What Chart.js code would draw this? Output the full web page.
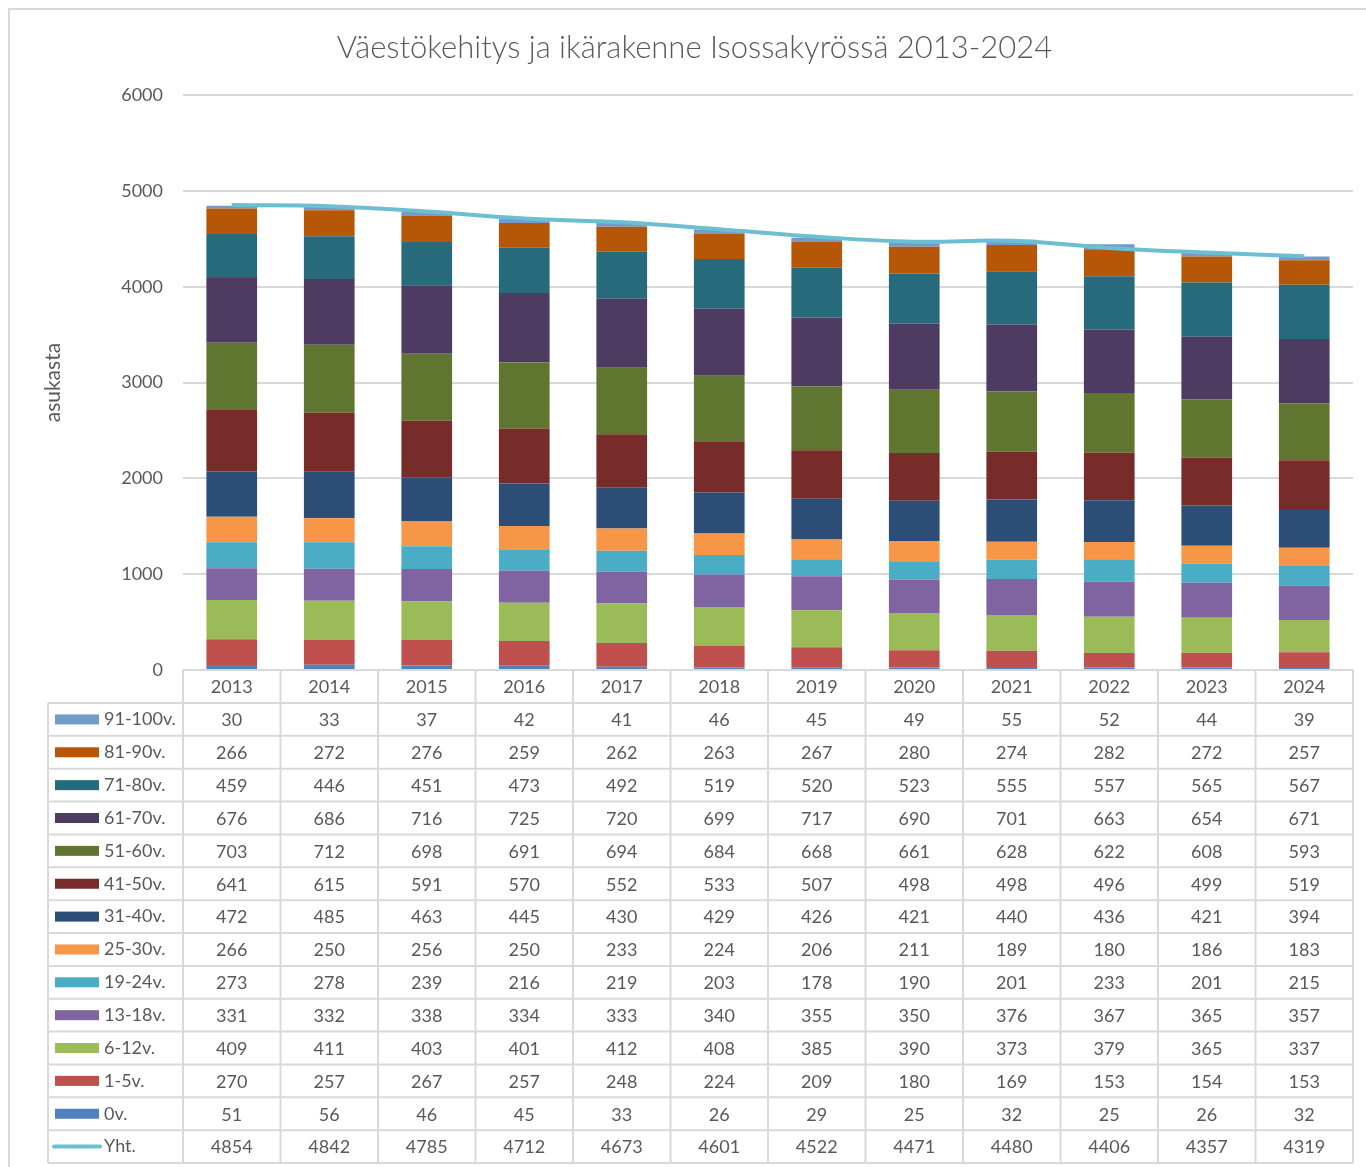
<!DOCTYPE html>
<html>
<head>
<meta charset="utf-8">
<script src="https://cdn.jsdelivr.net/npm/chart.js@4.4.1/dist/chart.umd.min.js"></script>
<style>
  body { margin: 0; background: #fff; }
  canvas { display: block; }
</style>
</head>
<body>
<canvas id="chart" width="1366" height="1167"></canvas>
<script>
// vuodet ja ikäryhmät (luettu taulukosta)
const years = ['2013', '2014', '2015', '2016', '2017', '2018', '2019', '2020', '2021', '2022', '2023', '2024'];

const v0 = [51, 56, 46, 45, 33, 26, 29, 25, 32, 25, 26, 32];
const v1_5 = [270, 257, 267, 257, 248, 224, 209, 180, 169, 153, 154, 153];
const v6_12 = [409, 411, 403, 401, 412, 408, 385, 390, 373, 379, 365, 337];
const v13_18 = [331, 332, 338, 334, 333, 340, 355, 350, 376, 367, 365, 357];
const v19_24 = [273, 278, 239, 216, 219, 203, 178, 190, 201, 233, 201, 215];
const v25_30 = [266, 250, 256, 250, 233, 224, 206, 211, 189, 180, 186, 183];
const v31_40 = [472, 485, 463, 445, 430, 429, 426, 421, 440, 436, 421, 394];
const v41_50 = [641, 615, 591, 570, 552, 533, 507, 498, 498, 496, 499, 519];
const v51_60 = [703, 712, 698, 691, 694, 684, 668, 661, 628, 622, 608, 593];
const v61_70 = [676, 686, 716, 725, 720, 699, 717, 690, 701, 663, 654, 671];
const v71_80 = [459, 446, 451, 473, 492, 519, 520, 523, 555, 557, 565, 567];
const v81_90 = [266, 272, 276, 259, 262, 263, 267, 280, 274, 282, 272, 257];
const v91_100 = [30, 33, 37, 42, 41, 46, 45, 49, 55, 52, 44, 39];
const yht = [4854, 4842, 4785, 4712, 4673, 4601, 4522, 4471, 4480, 4406, 4357, 4319];

const yTicks = [0, 1000, 2000, 3000, 4000, 5000, 6000];

const textColor = '#595959';
const lineColor = '#d9d9d9';
const fontFamily = 'Lato, "Open Sans", sans-serif';

function bar(label, data, color) {
  return { label: label, data: data, backgroundColor: color, borderWidth: 0, order: 1 };
}

const datasets = [
  bar('0v.', v0, '#4f81bd'),
  bar('1-5v.', v1_5, '#c0504d'),
  bar('6-12v.', v6_12, '#9bbb59'),
  bar('13-18v.', v13_18, '#8064a2'),
  bar('19-24v.', v19_24, '#4bacc6'),
  bar('25-30v.', v25_30, '#f79646'),
  bar('31-40v.', v31_40, '#2c4d75'),
  bar('41-50v.', v41_50, '#772c2a'),
  bar('51-60v.', v51_60, '#5f7530'),
  bar('61-70v.', v61_70, '#4d3b62'),
  bar('71-80v.', v71_80, '#276a7c'),
  bar('81-90v.', v81_90, '#b65708'),
  bar('91-100v.', v91_100, '#729aca'),
  {
    type: 'line',
    label: 'Yht.',
    data: yht,
    stack: 'yht',
    borderColor: '#6cbfd3',
    backgroundColor: '#6cbfd3',
    borderWidth: 4,
    pointRadius: 0,
    tension: 0.4,
    fill: false,
    order: 0
  }
];

// kehys ja valkoinen tausta
const framePlugin = {
  id: 'frame',
  beforeDraw(chart) {
    const ctx = chart.ctx;
    ctx.save();
    ctx.fillStyle = '#fff';
    ctx.fillRect(0, 0, chart.width, chart.height);
    ctx.strokeStyle = lineColor;
    ctx.lineWidth = 2;
    ctx.beginPath();
    ctx.moveTo(9, chart.height + 5);
    ctx.lineTo(9, 9);
    ctx.lineTo(chart.width + 5, 9);
    ctx.stroke();
    ctx.restore();
  }
};

// Excel-tyylinen arvotaulukko kaavion alle
const tablePlugin = {
  id: 'dataTable',
  afterDraw(chart) {
    const ctx = chart.ctx;
    const area = chart.chartArea;
    const xs = chart.scales.x;
    const colW = (area.right - area.left) / years.length;
    const top = area.bottom;
    const headH = 33;
    const rowH = 32.86;
    const tableLeft = 48;
    const ds = chart.data.datasets;
    const rows = [];
    for (let i = ds.length - 2; i >= 0; i--) rows.push(ds[i]);
    rows.push(ds[ds.length - 1]);
    const bottom = top + headH + rows.length * rowH;

    ctx.save();
    ctx.strokeStyle = lineColor;
    ctx.lineWidth = 2;
    ctx.beginPath();
    // pystyviivat
    for (let c = 0; c <= years.length; c++) {
      const x = area.left + c * colW;
      ctx.moveTo(x, top);
      ctx.lineTo(x, bottom);
    }
    ctx.moveTo(tableLeft, top + headH);
    ctx.lineTo(tableLeft, bottom);
    // vaakaviivat
    ctx.moveTo(area.left, top);
    ctx.lineTo(area.right, top);
    for (let r = 0; r <= rows.length; r++) {
      const y = top + headH + r * rowH;
      ctx.moveTo(tableLeft, y);
      ctx.lineTo(area.right, y);
    }
    ctx.stroke();

    ctx.font = '18px ' + fontFamily;
    ctx.fillStyle = textColor;
    ctx.textBaseline = 'middle';
    ctx.textAlign = 'center';
    years.forEach((yr, i) => {
      ctx.fillText(yr, xs.getPixelForValue(i), top + headH / 2 + 1);
    });

    rows.forEach((d, r) => {
      const cy = top + headH + r * rowH + rowH / 2;
      // selite
      if (d.type === 'line') {
        ctx.strokeStyle = d.borderColor;
        ctx.lineWidth = 4;
        ctx.lineCap = 'round';
        ctx.beginPath();
        ctx.moveTo(54, cy);
        ctx.lineTo(100, cy);
        ctx.stroke();
      } else {
        ctx.fillStyle = d.backgroundColor;
        ctx.fillRect(55, cy - 5, 44, 10);
      }
      ctx.fillStyle = textColor;
      ctx.textAlign = 'left';
      ctx.fillText(d.label, 104, cy);
      ctx.textAlign = 'center';
      d.data.forEach((v, i) => {
        ctx.fillText(String(v), xs.getPixelForValue(i), cy + 1);
      });
    });
    ctx.restore();
  }
};

new Chart(document.getElementById('chart'), {
  type: 'bar',
  data: { labels: years, datasets: datasets },
  options: {
    responsive: false,
    animation: false,
    layout: { padding: { left: 36, right: 13, top: 0, bottom: 497 } },
    plugins: {
      legend: { display: false },
      tooltip: { enabled: false },
      title: {
        display: true,
        text: 'Väestökehitys ja ikärakenne Isossakyrössä 2013-2024',
        color: textColor,
        font: { family: fontFamily, size: 31, weight: '300' },
        padding: { top: 29, bottom: 29 }
      }
    },
    datasets: {
      bar: { categoryPercentage: 1, barPercentage: 0.52 }
    },
    scales: {
      x: { stacked: true, display: false },
      y: {
        stacked: true,
        min: 0,
        max: 6000,
        afterFit(scale) { scale.width = 147; },
        afterBuildTicks(scale) { scale.ticks = yTicks.map(v => ({ value: v })); },
        border: { display: false },
        grid: { color: lineColor, lineWidth: 2, drawTicks: false },
        ticks: {
          padding: 20,
          color: textColor,
          font: { family: fontFamily, size: 18 },
          callback: (v) => String(v)
        },
        title: {
          display: true,
          text: 'asukasta',
          color: textColor,
          font: { family: fontFamily, size: 21 },
          padding: { top: 5, bottom: 0 }
        }
      }
    }
  },
  plugins: [framePlugin, tablePlugin]
});
</script>
</body>
</html>
